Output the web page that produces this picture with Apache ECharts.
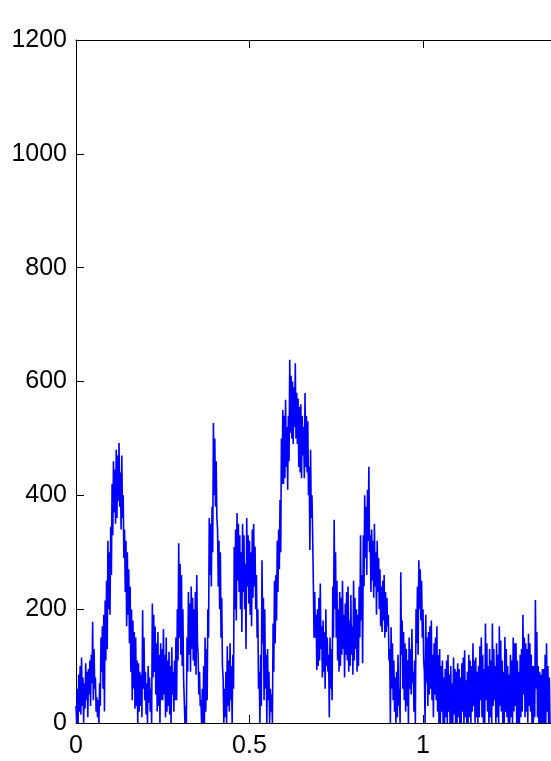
<!DOCTYPE html>
<html>
<head>
<meta charset="utf-8">
<script src="https://cdn.jsdelivr.net/npm/echarts@6/dist/echarts.min.js"></script>
<style>
  html, body { margin: 0; padding: 0; background: #fff; }
  #chart { width: 551px; height: 761px; }
</style>
</head>
<body>
<div id="chart"></div>
<script>
// Sample spacing along x
const DX = 0.002;

// Signal amplitude, one value per sample
const signal = [
  30,0,60,0,85,20,100,15,115,30,80,0,70,25,105,40,90,10,95,50,110,30,120,70,178,40,130,60,80,20,45,10,40,0,70,30,150,90,170,60,
  190,20,215,110,250,130,320,200,300,190,345,260,420,330,460,370,445,350,480,360,470,390,492,380,440,340,470,360,400,290,340,230,320,170,300,190,270,140,240,90,
  200,40,180,60,160,25,150,30,110,0,105,20,90,30,85,10,198,60,150,40,90,15,70,0,100,35,80,20,60,0,210,80,190,90,170,50,140,20,160,30,
  120,0,140,40,130,40,165,50,120,10,150,20,110,30,125,15,100,0,133,50,90,20,110,40,150,40,200,110,316,150,280,120,260,100,200,80,40,0,30,0,
  150,90,230,120,210,90,240,130,220,110,200,100,230,85,260,140,120,50,90,30,40,0,60,0,100,0,150,20,130,40,200,150,360,260,350,240,380,300,527,400,
  500,380,460,360,340,240,320,200,300,150,220,100,80,0,60,10,90,0,135,30,110,20,140,40,100,0,120,60,309,200,340,180,369,250,350,230,330,200,300,160,
  350,230,330,200,280,130,360,240,330,210,320,190,300,170,340,220,350,240,310,200,260,150,200,60,90,0,120,30,286,140,220,40,200,60,120,0,130,40,90,0,
  60,20,50,0,175,90,250,140,260,180,320,230,340,270,392,300,500,420,550,420,540,430,568,450,520,410,540,460,638,510,610,500,600,490,590,520,632,500,580,490,
  570,450,555,440,560,430,540,470,520,430,580,450,540,440,530,400,450,304,480,360,400,330,246,150,230,150,190,93,200,100,220,110,245,130,170,80,180,90,160,60,
  200,100,150,90,120,10,150,60,130,40,240,150,357,200,300,150,250,110,200,90,230,100,220,120,250,130,190,80,210,120,230,110,240,90,180,100,225,120,170,85,
  250,110,220,130,200,90,190,100,240,150,330,180,260,105,330,240,400,290,380,260,410,320,450,300,330,230,340,250,320,220,350,240,300,190,320,230,290,200,270,170,
  240,160,250,180,260,150,230,160,220,170,190,110,130,0,168,60,140,40,110,20,80,0,90,10,120,30,60,0,265,120,180,60,160,40,140,20,130,30,110,0,
  150,60,130,50,165,70,90,20,110,0,200,140,240,120,286,200,270,180,250,150,200,110,90,0,190,70,150,30,160,50,170,60,180,40,120,10,140,50,150,40,
  170,20,120,0,130,0,100,20,110,0,80,0,95,10,110,0,120,20,85,0,100,0,70,0,115,15,95,0,90,0,105,10,95,0,80,0,105,20,115,0,
  128,10,75,0,90,0,120,10,110,0,100,20,140,30,110,0,115,10,90,0,100,10,135,40,150,10,120,0,95,0,175,40,140,20,100,0,130,10,110,0,
  175,30,130,40,100,0,140,10,120,0,170,30,145,20,110,0,90,0,151,20,130,10,100,0,85,0,120,10,110,0,150,20,140,30,140,0,110,0,90,0,
  120,10,130,20,190,50,150,10,140,20,130,0,157,30,140,20,120,0,100,0,100,10,216,60,160,10,100,0,90,0,85,0,95,0,95,0,120,0,140,20,100,0,80,0
];

// Axis ranges and ticks
const xRange = [0, 1.5];
const xStep = 0.5;
const yRange = [0, 1200];
const yStep = 200;

const points = signal.map((v, i) => [i * DX, v]);

const font = { fontFamily: 'Liberation Sans, Arial, sans-serif', fontSize: 25, color: '#000' };
const axisLine = { show: true, onZero: false, lineStyle: { color: '#000', width: 1 } };
const tick = { show: true, inside: true, length: 8, lineStyle: { color: '#000', width: 1 } };

const chart = echarts.init(document.getElementById('chart'), null, { renderer: 'canvas' });
chart.setOption({
  backgroundColor: '#fff',
  animation: false,
  grid: { left: 76, top: 40, width: 520.5, height: 683, outerBoundsMode: 'none', containLabel: false },
  xAxis: [
    {
      type: 'value', position: 'bottom', min: xRange[0], max: xRange[1], interval: xStep,
      axisLine: axisLine, axisTick: tick, splitLine: { show: false },
      axisLabel: Object.assign({ margin: 11, formatter: v => String(v) }, font)
    },
    {
      type: 'value', position: 'top', min: xRange[0], max: xRange[1], interval: xStep,
      axisLine: axisLine, axisTick: tick, splitLine: { show: false }, axisLabel: { show: false }
    }
  ],
  yAxis: [
    {
      type: 'value', position: 'left', min: yRange[0], max: yRange[1], interval: yStep,
      axisLine: axisLine, axisTick: tick, splitLine: { show: false },
      axisLabel: Object.assign({ margin: 9, formatter: v => String(v) }, font)
    }
  ],
  series: [
    {
      type: 'line', data: points, xAxisIndex: 0, yAxisIndex: 0,
      showSymbol: false, symbol: 'none', clip: true,
      lineStyle: { color: '#0000ff', width: 1.6 }
    }
  ]
});
</script>
</body>
</html>
